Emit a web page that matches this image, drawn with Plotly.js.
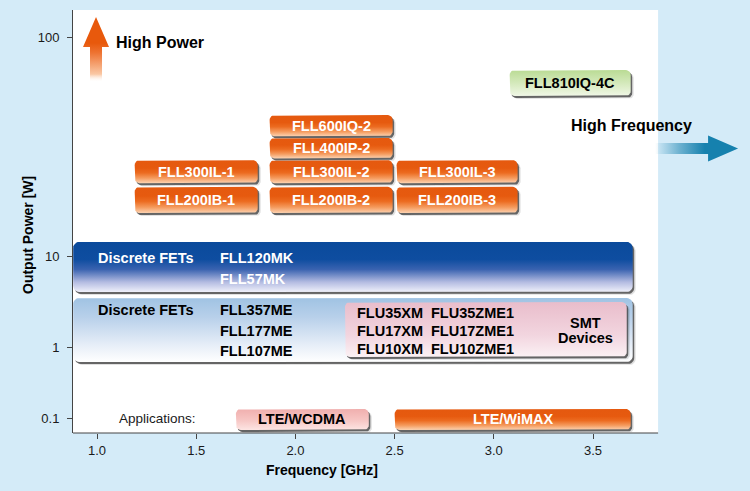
<!DOCTYPE html>
<html><head><meta charset="utf-8">
<script src="https://cdn.plot.ly/plotly-3.0.1.min.js"></script>
<style>html,body{margin:0;padding:0;background:#d4ebf8;} #chart{width:750px;height:491px;}</style>
</head><body><div id="chart"></div>
<script>
// ================= DATA =================
const yTickWatts = [0.1, 1, 10, 100];
const yTickLabels = ['0.1', '1', '10', '100'];
const xTickVals = [1.0, 1.5, 2.0, 2.5, 3.0, 3.5];
const xTickLabels = ['1.0', '1.5', '2.0', '2.5', '3.0', '3.5'];

// High-power GaAs FETs (frequency range GHz, output power range W)
const hpNames  = ['FLL600IQ-2','FLL400IP-2','FLL300IL-1','FLL300IL-2','FLL300IL-3','FLL200IB-1','FLL200IB-2','FLL200IB-3'];
const hpFreqLo = [1.87, 1.87, 1.19, 1.87, 2.51, 1.19, 1.87, 2.51];
const hpFreqHi = [2.49, 2.49, 1.81, 2.49, 3.12, 1.81, 2.49, 3.12];
const hpPowLo  = [35.2, 27.9, 21.5, 21.5, 21.5, 15.7, 15.7, 15.7];
const hpPowHi  = [44.0, 34.6, 27.4, 27.4, 27.4, 20.7, 20.7, 20.7];

const newName = 'FLL810IQ-4C';
const newFreq = [3.08, 3.69];
const newPow  = [53.8, 70.7];

const fetLabel = 'Discrete FETs';
const fetHiDevices = ['FLL120MK', 'FLL57MK'];
const fetHiFreq = [0.88, 3.70];
const fetHiPow  = [4.02, 11.6];
const fetLoDevices = ['FLL357ME', 'FLL177ME', 'FLL107ME'];
const fetLoFreq = [0.88, 3.70];
const fetLoPow  = [0.617, 3.45];

const smtXM  = ['FLU35XM', 'FLU17XM', 'FLU10XM'];
const smtZME = ['FLU35ZME1', 'FLU17ZME1', 'FLU10ZME1'];
const smtLabel = ['SMT', 'Devices'];
const smtFreq = [2.25, 3.67];
const smtPow  = [0.725, 3.12];

const appTitle = 'Applications:';
const appNames  = ['LTE/WCDMA', 'LTE/WiMAX'];
const appFreqLo = [1.70, 2.50];
const appFreqHi = [2.37, 3.69];
const appPowLo  = [0.069, 0.069];
const appPowHi  = [0.136, 0.136];

// ================= LAYOUT GEOMETRY =================
const W = 750, H = 491;
const M = {l: 73, r: 0, t: 10, b: 58};
const plotW = W - M.l - M.r, plotH = H - M.t - M.b;
const xMin = 0.879, xAxisEnd = 3.828;
const gPerPx = 1 / 198.4;
const xMax = xMin + plotW * gPerPx;
const yTickPos = [14.5, 86, 177, 396]; // vertical placement of the decade ticks (schematic scale)
const L = yTickWatts.map(Math.log10);
function ypos(w) {
  const lw = Math.log10(w);
  let i = lw <= L[1] ? 0 : (lw <= L[2] ? 1 : 2);
  return yTickPos[i] + (lw - L[i]) * (yTickPos[i + 1] - yTickPos[i]) / (L[i + 1] - L[i]);
}
function rrect(x0, x1, y0, y1, r) {
  const rx = r * gPerPx, ry = r, xs = [], ys = [], n = 6;
  const c = [[x1 - rx, y1 - ry, 0], [x0 + rx, y1 - ry, 90], [x0 + rx, y0 + ry, 180], [x1 - rx, y0 + ry, 270]];
  c.forEach(([cx, cy, a0]) => {
    for (let k = 0; k <= n; k++) {
      const a = (a0 + 90 * k / n) * Math.PI / 180;
      xs.push(cx + rx * Math.cos(a)); ys.push(cy + ry * Math.sin(a));
    }
  });
  xs.push(xs[0]); ys.push(ys[0]);
  return {xs, ys};
}
const traces = [];
function poly(xs, ys, fill) {
  const t = {type: 'scatter', mode: 'lines', x: xs, y: ys, fill: 'toself', line: {width: 0},
             hoverinfo: 'skip', showlegend: false};
  if (typeof fill === 'string') t.fillcolor = fill; else t.fillgradient = fill;
  traces.push(t);
}
function box(x0, x1, w0, w1, grad, r) {
  const y0 = ypos(w0), y1 = ypos(w1);
  const s2 = rrect(x0 + 3 * gPerPx, x1 + 3 * gPerPx, y0 - 3, y1 - 3, r);
  poly(s2.xs, s2.ys, 'rgba(0,0,0,0.12)');
  const s = rrect(x0 + 1.5 * gPerPx, x1 + 1.5 * gPerPx, y0 - 2, y1 - 2, r);
  poly(s.xs, s.ys, 'rgba(70,70,70,0.8)');
  const b = rrect(x0, x1, y0, y1, r);
  poly(b.xs, b.ys, {type: 'vertical', colorscale: grad});
}
const G = {
  orange: [[0, '#fcd3b2'], [0.22, '#f59b5e'], [0.45, '#ec6b20'], [0.65, '#e65a0f'], [1, '#e5590f']],
  green:  [[0, '#f0f7e6'], [0.5, '#d4e9bb'], [1, '#badb94']],
  dark:   [[0, '#eff0fa'], [0.2, '#b3bbe1'], [0.45, '#3a63b0'], [0.65, '#0e4da0'], [1, '#0a4a9b']],
  light:  [[0, '#ffffff'], [0.25, '#e8eff8'], [0.7, '#b8d0ea'], [1, '#a0c3e3']],
  pink:   [[0, '#fbf1f4'], [0.4, '#f2d5df'], [1, '#e9bdcb']],
  rose:   [[0, '#fde5e3'], [0.5, '#f6c4c2'], [1, '#f0afae']]
};

// bands
box(fetHiFreq[0], fetHiFreq[1], fetHiPow[0], fetHiPow[1], G.dark, 6);
box(fetLoFreq[0], fetLoFreq[1], fetLoPow[0], fetLoPow[1], G.light, 6);
box(smtFreq[0], smtFreq[1], smtPow[0], smtPow[1], G.pink, 5);
for (let i = 0; i < hpNames.length; i++) box(hpFreqLo[i], hpFreqHi[i], hpPowLo[i], hpPowHi[i], G.orange, 5);
box(newFreq[0], newFreq[1], newPow[0], newPow[1], G.green, 5);
box(appFreqLo[0], appFreqHi[0], appPowLo[0], appPowHi[0], G.rose, 5);
box(appFreqLo[1], appFreqHi[1], appPowLo[1], appPowHi[1], G.orange, 5);

// High Power arrow (anchored at 1.0 GHz / 100 W)
(function () {
  const cx = 1.0 - 1 * gPerPx, cy = ypos(100);
  const hw = 13 * gPerPx, sw = 6 * gPerPx;
  poly([cx, cx + hw, cx + sw, cx + sw, cx - sw, cx - sw, cx - hw, cx],
       [cy + 20, cy - 10, cy - 10, cy - 45, cy - 45, cy - 10, cy - 10, cy + 20],
       {type: 'vertical', colorscale: [[0, 'rgba(255,255,255,0)'], [0.12, 'rgba(250,200,165,1)'], [0.45, '#ee7332'], [0.6, '#e8590c'], [1, '#e8590c']]});
})();
// High Frequency arrow (anchored at the end of the frequency axis)
(function () {
  const x0 = xAxisEnd - 3 * gPerPx, xb = xAxisEnd + 50 * gPerPx, xt = xAxisEnd + 80 * gPerPx;
  const cy = ypos(31);
  poly([x0, xb, xb, xt, xb, xb, x0, x0],
       [cy + 5.5, cy + 5.5, cy + 13, cy, cy - 13, cy - 5.5, cy - 5.5, cy + 5.5],
       {type: 'horizontal', colorscale: [[0, 'rgba(21,128,174,0)'], [0.3, 'rgba(21,128,174,0.55)'], [0.6, '#1681ae'], [1, '#1681ae']]});
})();

// ================= ANNOTATIONS =================
const FF = 'Liberation Sans, Arial, Helvetica, sans-serif';
const ann = [];
function txt(x, y, text, o) {
  ann.push(Object.assign({xref: 'x', yref: 'y', x, y, text, showarrow: false, yanchor: 'middle',
    font: {family: FF, size: 14.5, color: '#000', weight: 700}}, o || {}));
}
const white = {font: {family: FF, size: 14.5, color: '#fff', weight: 700}};
for (let i = 0; i < hpNames.length; i++)
  txt((hpFreqLo[i] + hpFreqHi[i]) / 2, (ypos(hpPowLo[i]) + ypos(hpPowHi[i])) / 2, hpNames[i], white);
txt((newFreq[0] + newFreq[1]) / 2, (ypos(newPow[0]) + ypos(newPow[1])) / 2, newName);
// dark band
{
  const top = ypos(fetHiPow[1]);
  txt(fetHiFreq[0] + 23 * gPerPx, top - 16, fetLabel, Object.assign({xanchor: 'left'}, white));
  fetHiDevices.forEach((d, i) => txt(fetHiFreq[0] + 145 * gPerPx, top - 16 - 21 * i, d, Object.assign({xanchor: 'left'}, white)));
}
{
  const top = ypos(fetLoPow[1]);
  txt(fetLoFreq[0] + 23 * gPerPx, top - 12, fetLabel, {xanchor: 'left'});
  fetLoDevices.forEach((d, i) => txt(fetLoFreq[0] + 145 * gPerPx, top - 12 - 20.5 * i, d, {xanchor: 'left'}));
}
{
  const top = ypos(smtPow[1]), mid = (ypos(smtPow[0]) + ypos(smtPow[1])) / 2;
  smtXM.forEach((d, i) => txt(smtFreq[0] + 10 * gPerPx, top - 10.5 - 18 * i, d, {xanchor: 'left'}));
  smtZME.forEach((d, i) => txt(smtFreq[0] + 84 * gPerPx, top - 10.5 - 18 * i, d, {xanchor: 'left'}));
  txt(smtFreq[1] - 41 * gPerPx, mid + 6.5, smtLabel[0]);
  txt(smtFreq[1] - 41 * gPerPx, mid - 8, smtLabel[1]);
}
txt((appFreqLo[0] + appFreqHi[0]) / 2, (ypos(appPowLo[0]) + ypos(appPowHi[0])) / 2, appNames[0]);
txt((appFreqLo[1] + appFreqHi[1]) / 2, (ypos(appPowLo[1]) + ypos(appPowHi[1])) / 2, appNames[1], white);
txt(1.509, ypos(0.1), appTitle, {xanchor: 'right', font: {family: FF, size: 13.5, color: '#1a1a1a'}});
txt(1.0 + 17 * gPerPx, ypos(100) - 5, 'High Power', {xanchor: 'left', font: {family: FF, size: 16, color: '#000', weight: 700}});
txt(xAxisEnd - 26.5 * gPerPx, ypos(31) + 23, 'High Frequency', {font: {family: FF, size: 16, color: '#000', weight: 700}});
// axis titles
ann.push({xref: 'paper', yref: 'paper', x: (28 - M.l) / plotW, y: (H - M.b - 235) / plotH, text: 'Output Power [W]',
  xanchor: 'center', yanchor: 'middle',
  textangle: -90, showarrow: false, font: {family: FF, size: 14, color: '#000', weight: 700}});
ann.push({xref: 'paper', yref: 'paper', x: (322 - M.l) / plotW, y: (H - M.b - 470) / plotH, text: 'Frequency [GHz]',
  xanchor: 'center', yanchor: 'middle',
  showarrow: false, font: {family: FF, size: 14, color: '#000', weight: 700}});

const layout = {
  width: W, height: H, margin: M,
  paper_bgcolor: '#d4ebf8', plot_bgcolor: '#d4ebf8',
  showlegend: false,
  xaxis: {range: [xMin, xMax], tickvals: xTickVals, ticktext: xTickLabels, ticks: 'outside', ticklen: 5,
          tickcolor: '#444', showline: false, showgrid: false, zeroline: false, fixedrange: true,
          tickfont: {family: FF, size: 13, color: '#1a1a1a'}},
  yaxis: {range: [0, plotH], tickvals: yTickWatts.map(ypos), ticktext: yTickLabels, ticks: 'outside', ticklen: 5,
          tickcolor: '#444', showline: true, linecolor: '#444', linewidth: 1, showgrid: false, zeroline: false,
          ticklabelstandoff: 5,
          fixedrange: true, tickfont: {family: FF, size: 13, color: '#1a1a1a'}},
  shapes: [
    {type: 'rect', xref: 'x', yref: 'paper', x0: xMin, x1: xAxisEnd, y0: 0, y1: 1, fillcolor: '#ffffff', line: {width: 0}, layer: 'below'},
    {type: 'line', xref: 'x', yref: 'paper', x0: xMin, x1: xAxisEnd, y0: 0, y1: 0, line: {color: '#444', width: 1}}
  ],
  annotations: ann
};
Plotly.newPlot('chart', traces, layout, {staticPlot: true, displayModeBar: false});
</script></body></html>
